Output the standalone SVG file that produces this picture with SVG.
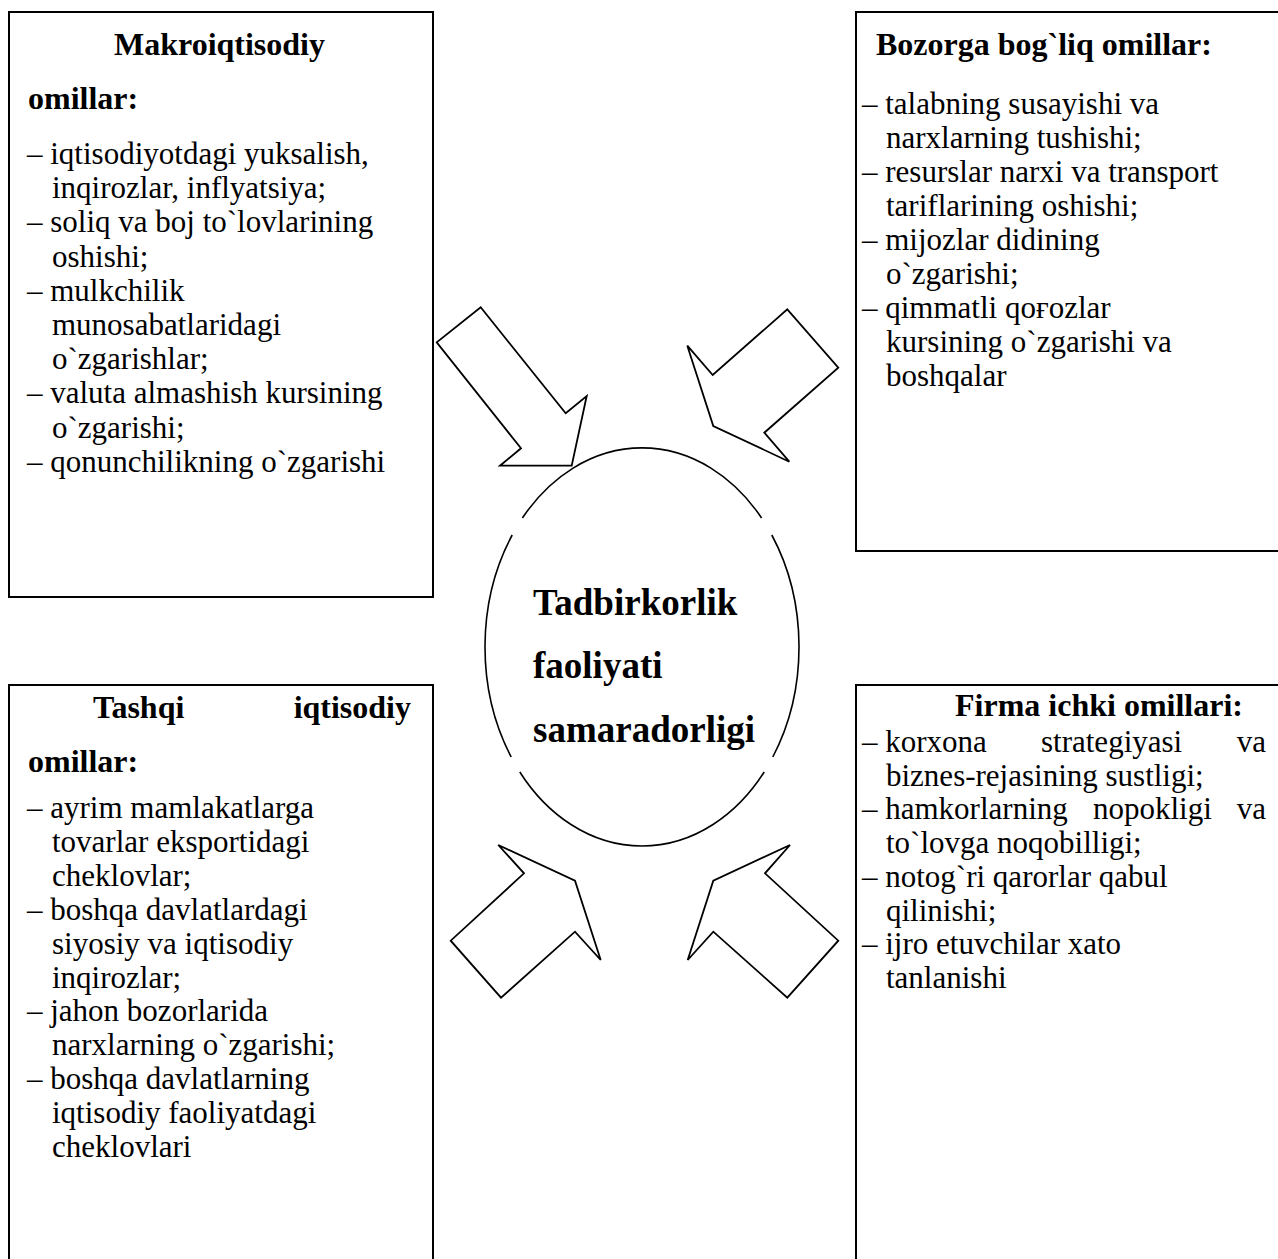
<svg xmlns="http://www.w3.org/2000/svg" width="1278" height="1259" viewBox="0 0 1278 1259">
<style>
.box{fill:#fff;stroke:#000;stroke-width:2}
.arr{fill:#fff;stroke:#000;stroke-width:1.8;stroke-linejoin:miter}
.ell{fill:none;stroke:#000;stroke-width:1.6}
text{font-family:"Liberation Serif","Times New Roman",serif;fill:#000}
.h{font-size:32px;font-weight:bold}
.b{font-size:31px}
.c{font-size:37px;font-weight:bold}
</style>
<rect width="1278" height="1259" fill="#fff"/>
<g id="connectors">
<polygon class="arr" points="480.7,307.3 565.7,413.3 586.7,396 571.7,465.7 500,465.7 521,448.3 436.7,342.3"/>
<polygon class="arr" points="787.3,309.3 838.3,367.7 764.3,432.7 789.3,461.7 713.3,426 687.3,345.7 712.7,375"/>
<polygon class="arr" points="498.3,845 575,880.7 600.7,960 575,931.7 501,997.7 450.7,940.7 524,873.3"/>
<polygon class="arr" points="790,845 713.3,880.7 687.7,960 713.3,931.7 787.3,997.7 838.3,940.7 765,873.3"/>
</g>
<g id="center">
<path class="ell" d="M522.4,518 A157,199 0 0 1 761.6,518 M771.8,535 A157,199 0 0 1 772.8,757 M764.2,772 A157,199 0 0 1 519.8,772 M511.2,757 A157,199 0 0 1 512.2,535"/>
<text class="c" x="533" y="615">Tadbirkorlik</text>
<text class="c" x="533" y="678">faoliyati</text>
<text class="c" x="533" y="742">samaradorligi</text>
</g>
<g id="makro">
<rect class="box" x="9" y="12" width="424" height="585"/>
<text class="h" x="114" y="55">Makroiqtisodiy</text>
<text class="h" x="28" y="109">omillar:</text>
<g class="b">
<text x="27" y="164">– iqtisodiyotdagi yuksalish,</text>
<text x="52" y="198">inqirozlar, inflyatsiya;</text>
<text x="27" y="232">– soliq va boj to`lovlarining</text>
<text x="52" y="267">oshishi;</text>
<text x="27" y="301">– mulkchilik</text>
<text x="52" y="335">munosabatlaridagi</text>
<text x="52" y="369">o`zgarishlar;</text>
<text x="27" y="403">– valuta almashish kursining</text>
<text x="52" y="438">o`zgarishi;</text>
<text x="27" y="472">– qonunchilikning o`zgarishi</text>
</g>
</g>
<g id="bozor">
<rect class="box" x="856" y="12" width="430" height="539"/>
<text class="h" x="876" y="55">Bozorga bog`liq omillar:</text>
<g class="b">
<text x="862" y="114">– talabning susayishi va</text>
<text x="886" y="148">narxlarning tushishi;</text>
<text x="862" y="182">– resurslar narxi va transport</text>
<text x="886" y="216">tariflarining oshishi;</text>
<text x="862" y="250">– mijozlar didining</text>
<text x="886" y="284">o`zgarishi;</text>
<text x="862" y="318">– qimmatli qoғozlar</text>
<text x="886" y="352">kursining o`zgarishi va</text>
<text x="886" y="386">boshqalar</text>
</g>
</g>
<g id="tashqi">
<rect class="box" x="9" y="685" width="424" height="600"/>
<text class="h" x="93" y="718">Tashqi</text>
<text class="h" x="411" y="718" text-anchor="end">iqtisodiy</text>
<text class="h" x="28" y="772">omillar:</text>
<g class="b">
<text x="27" y="818">– ayrim mamlakatlarga</text>
<text x="52" y="852">tovarlar eksportidagi</text>
<text x="52" y="886">cheklovlar;</text>
<text x="27" y="920">– boshqa davlatlardagi</text>
<text x="52" y="954">siyosiy va iqtisodiy</text>
<text x="52" y="988">inqirozlar;</text>
<text x="27" y="1021">– jahon bozorlarida</text>
<text x="52" y="1055">narxlarning o`zgarishi;</text>
<text x="27" y="1089">– boshqa davlatlarning</text>
<text x="52" y="1123">iqtisodiy faoliyatdagi</text>
<text x="52" y="1157">cheklovlari</text>
</g>
</g>
<g id="firma">
<rect class="box" x="856" y="685" width="430" height="600"/>
<text class="h" x="955" y="716">Firma ichki omillari:</text>
<g class="b">
<text x="862" y="752">– korxona</text>
<text x="1041" y="752">strategiyasi</text>
<text x="1266" y="752" text-anchor="end">va</text>
<text x="886" y="786">biznes-rejasining sustligi;</text>
<text x="862" y="819">– hamkorlarning</text>
<text x="1093" y="819">nopokligi</text>
<text x="1266" y="819" text-anchor="end">va</text>
<text x="886" y="853">to`lovga noqobilligi;</text>
<text x="862" y="887">– notog`ri qarorlar qabul</text>
<text x="886" y="921">qilinishi;</text>
<text x="862" y="954">– ijro etuvchilar xato</text>
<text x="886" y="988">tanlanishi</text>
</g>
</g>
</svg>
